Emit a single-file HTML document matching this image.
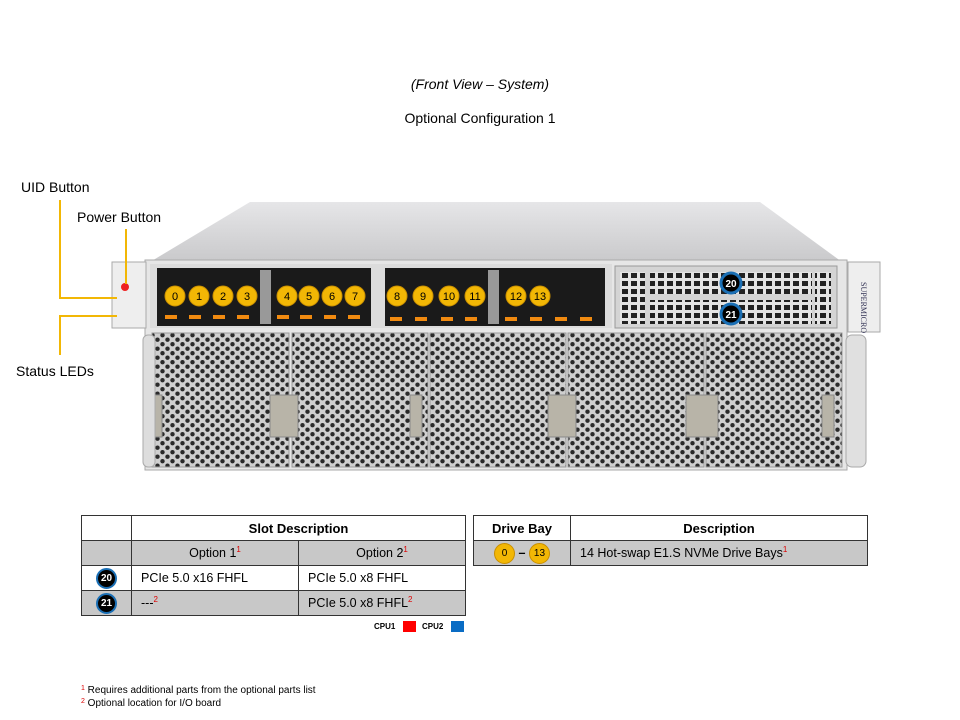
<!DOCTYPE html>
<html><head><meta charset="utf-8"><style>
body{margin:0;background:#fff;font-family:"Liberation Sans",Arial,sans-serif;}
.wrap{position:relative;width:960px;height:720px;overflow:hidden;}
.t{position:absolute;font-size:14px;color:#000;}
table{position:absolute;border-collapse:collapse;font-size:12.5px;}
td{border:1px solid #333;height:24px;padding:0 0 0 0;}
.g{background:#c8c8c8;}
sup{color:#d00;font-size:8px;}
.b{display:inline-block;width:17px;height:17px;border-radius:50%;background:#000;border:2px solid #1a6fb5;color:#fff;font-weight:bold;font-size:10px;line-height:17px;text-align:center;vertical-align:middle;}
.y{display:inline-block;width:19px;height:19px;border-radius:50%;background:#f2b705;border:1px solid #c98f00;font-size:10px;line-height:19px;text-align:center;vertical-align:middle;}
</style></head><body><div class="wrap">
<div class="t" style="left:0;width:960px;text-align:center;top:76px;font-style:italic">(Front View – System)</div>
<div class="t" style="left:0;width:960px;text-align:center;top:110px">Optional Configuration 1</div>
<div class="t" style="left:21px;top:179px">UID Button</div>
<div class="t" style="left:77px;top:209px">Power Button</div>
<div class="t" style="left:16px;top:363px">Status LEDs</div>
<svg width="960" height="720" style="position:absolute;left:0;top:0">
<defs>
<pattern id="hex" width="10" height="9" patternUnits="userSpaceOnUse">
<rect width="10" height="9" fill="#cfcfcf"/>
<circle cx="2.5" cy="2.2" r="2.2" fill="#2a2a2a"/><circle cx="7.5" cy="6.7" r="2.2" fill="#2a2a2a"/>
</pattern>
<pattern id="grid" width="9" height="8" patternUnits="userSpaceOnUse">
<rect width="9" height="8" fill="#e4e4e4"/><rect x="1" y="1" width="6" height="5" fill="#222"/>
</pattern>
<linearGradient id="lid" x1="0" y1="0" x2="0" y2="1"><stop offset="0" stop-color="#e6e6e8"/><stop offset="1" stop-color="#c9c9cb"/></linearGradient>
</defs>
<polygon points="150,262 250,202 760,202 842,262" fill="url(#lid)"/>
<rect x="145" y="260" width="702" height="210" fill="#e6e6e6" stroke="#aaa"/>
<rect x="150" y="264" width="462" height="64" fill="#dcdcdc"/>
<rect x="157" y="268" width="214" height="58" fill="#1a1a1a"/>
<rect x="385" y="268" width="220" height="58" fill="#1a1a1a"/>
<g fill="#999"><rect x="260" y="270" width="11" height="54"/><rect x="488" y="270" width="11" height="54"/></g>
<g fill="#f08a10">
<rect x="165" y="315" width="12" height="4"/><rect x="189" y="315" width="12" height="4"/><rect x="213" y="315" width="12" height="4"/><rect x="237" y="315" width="12" height="4"/>
<rect x="277" y="315" width="12" height="4"/><rect x="300" y="315" width="12" height="4"/><rect x="324" y="315" width="12" height="4"/><rect x="348" y="315" width="12" height="4"/>
<rect x="390" y="317" width="12" height="4"/><rect x="415" y="317" width="12" height="4"/><rect x="441" y="317" width="12" height="4"/><rect x="465" y="317" width="12" height="4"/>
<rect x="505" y="317" width="12" height="4"/><rect x="530" y="317" width="12" height="4"/><rect x="555" y="317" width="12" height="4"/><rect x="580" y="317" width="12" height="4"/>
</g>
<g fill="#f2b705" stroke="#c98f00" stroke-width="1">
<circle cx="175" cy="296" r="10"/><circle cx="199" cy="296" r="10"/><circle cx="223" cy="296" r="10"/><circle cx="247" cy="296" r="10"/>
<circle cx="287" cy="296" r="10"/><circle cx="309" cy="296" r="10"/><circle cx="332" cy="296" r="10"/><circle cx="355" cy="296" r="10"/>
<circle cx="397" cy="296" r="10"/><circle cx="423" cy="296" r="10"/><circle cx="449" cy="296" r="10"/><circle cx="475" cy="296" r="10"/>
<circle cx="516" cy="296" r="10"/><circle cx="540" cy="296" r="10"/>
</g>
<g font-size="11" text-anchor="middle" font-family="Liberation Sans, sans-serif" fill="#000">
<text x="175" y="300">0</text><text x="199" y="300">1</text><text x="223" y="300">2</text><text x="247" y="300">3</text>
<text x="287" y="300">4</text><text x="309" y="300">5</text><text x="332" y="300">6</text><text x="355" y="300">7</text>
<text x="397" y="300">8</text><text x="423" y="300">9</text><text x="449" y="300">10</text><text x="475" y="300">11</text>
<text x="516" y="300">12</text><text x="540" y="300">13</text>
</g>
<rect x="615" y="266" width="222" height="62" fill="#d4d4d4" stroke="#999"/>
<rect x="620" y="272" width="25" height="52" fill="url(#grid)"/>
<rect x="650" y="272" width="162" height="22" fill="url(#grid)"/>
<rect x="650" y="300" width="162" height="24" fill="url(#grid)"/>
<rect x="815" y="272" width="16" height="52" fill="url(#grid)"/>
<circle cx="731" cy="283" r="10" fill="#000" stroke="#1a6fb5" stroke-width="3"/>
<circle cx="731" cy="314" r="10" fill="#000" stroke="#1a6fb5" stroke-width="3"/>
<text x="731" y="287" font-size="10" font-weight="bold" fill="#fff" text-anchor="middle" font-family="Liberation Sans">20</text>
<text x="731" y="318" font-size="10" font-weight="bold" fill="#fff" text-anchor="middle" font-family="Liberation Sans">21</text>
<rect x="112" y="262" width="34" height="66" fill="#eee" stroke="#aaa"/>
<circle cx="125" cy="287" r="4" fill="#e22"/>
<rect x="848" y="262" width="32" height="70" fill="#eee" stroke="#aaa"/>
<text x="0" y="0" font-size="8" fill="#335" transform="translate(861,282) rotate(90)" font-family="Liberation Serif">SUPERMICRO</text>
<g stroke="#999" fill="url(#hex)">
<rect x="152" y="333" width="137" height="134"/><rect x="292" y="333" width="136" height="134"/><rect x="430" y="333" width="136" height="134"/><rect x="568" y="333" width="136" height="134"/><rect x="706" y="333" width="136" height="134"/>
</g>
<g fill="#b8b4a8" stroke="#888">
<rect x="270" y="395" width="28" height="42"/><rect x="410" y="395" width="12" height="42"/><rect x="548" y="395" width="28" height="42"/><rect x="686" y="395" width="32" height="42"/><rect x="822" y="395" width="12" height="42"/><rect x="152" y="395" width="10" height="42"/>
</g>
<rect x="143" y="335" width="12" height="132" rx="5" fill="#ddd" stroke="#aaa"/>
<rect x="846" y="335" width="20" height="132" rx="6" fill="#e0e0e0" stroke="#aaa"/>
<g stroke="#f2b705" stroke-width="2" fill="none">
<polyline points="60,200 60,298 117,298"/>
<polyline points="126,229 126,284"/>
<polyline points="60,355 60,316 117,316"/>
</g>
</svg>
<table style="left:81px;top:515px;width:385px">
<tr><td style="width:49px"></td><td colspan="2" style="text-align:center;font-weight:bold;font-size:13px">Slot Description</td></tr>
<tr class="g"><td></td><td style="text-align:center;width:166px">Option 1<sup>1</sup></td><td style="text-align:center">Option 2<sup>1</sup></td></tr>
<tr><td style="text-align:center"><span class="b">20</span></td><td style="padding-left:9px">PCIe 5.0 x16 FHFL</td><td style="padding-left:9px">PCIe 5.0 x8 FHFL</td></tr>
<tr class="g"><td style="text-align:center"><span class="b">21</span></td><td style="padding-left:9px">---<sup>2</sup></td><td style="padding-left:9px">PCIe 5.0 x8 FHFL<sup>2</sup></td></tr>
</table>
<div style="position:absolute;left:374px;top:622px;font-size:8px;font-weight:bold">CPU1</div>
<div style="position:absolute;left:403px;top:621px;width:13px;height:11px;background:#f00"></div>
<div style="position:absolute;left:422px;top:622px;font-size:8px;font-weight:bold">CPU2</div>
<div style="position:absolute;left:451px;top:621px;width:13px;height:11px;background:#0a6cc4"></div>
<table style="left:473px;top:515px;width:395px">
<tr><td style="width:96px;text-align:center;font-weight:bold;font-size:13px">Drive Bay</td><td style="text-align:center;font-weight:bold;font-size:13px">Description</td></tr>
<tr class="g"><td style="text-align:center"><span class="y">0</span> <b>–</b> <span class="y">13</span></td><td style="padding-left:9px">14 Hot-swap E1.S NVMe Drive Bays<sup>1</sup></td></tr>
</table>
<div style="position:absolute;left:81px;top:685px;font-size:10px"><span style="color:#d00;font-size:7px;vertical-align:top">1</span> Requires additional parts from the optional parts list</div>
<div style="position:absolute;left:81px;top:698px;font-size:10px"><span style="color:#d00;font-size:7px;vertical-align:top">2</span> Optional location for I/O board</div>
</div></body></html>
